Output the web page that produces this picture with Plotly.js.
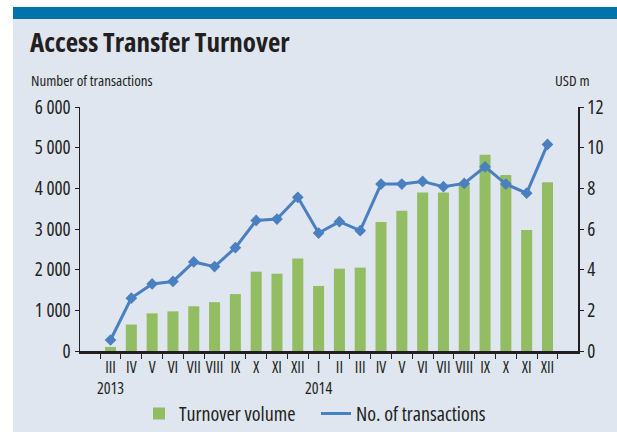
<!DOCTYPE html>
<html>
<head>
<meta charset="utf-8">
<script src="https://cdn.plot.ly/plotly-3.0.1.min.js"></script>
<style>
html,body{margin:0;padding:0;background:#fff;}
#chart{width:617px;height:432px;}
svg text{font-stretch:condensed;}
</style>
</head>
<body>
<div id="chart"></div>
<script>
var months = ["III 2013","IV 2013","V 2013","VI 2013","VII 2013","VIII 2013","IX 2013","X 2013","XI 2013","XII 2013",
              "I 2014","II 2014","III 2014","IV 2014","V 2014","VI 2014","VII 2014","VIII 2014","IX 2014","X 2014","XI 2014","XII 2014"];
var tickLabels = ["III<br>2013","IV","V","VI","VII","VIII","IX","X","XI","XII",
                  "I<br>2014","II","III","IV","V","VI","VII","VIII","IX","X","XI","XII"];
var turnoverUSDm = [0.2,1.3,1.85,1.95,2.2,2.4,2.8,3.9,3.8,4.55,
                    3.2,4.05,4.1,6.35,6.9,7.8,7.8,8.2,9.65,8.65,5.95,8.3];
var transactions = [270,1300,1650,1710,2190,2075,2540,3210,3245,3780,
                    2900,3180,2960,4105,4105,4170,4040,4120,4530,4105,3880,5080];

var FONT = '"Open Sans", "Roboto Condensed", sans-serif';
var DARK = '#231f20';
var PANEL = '#dfe6f0';

var traces = [
  {type:'bar', x:months, y:turnoverUSDm, name:'Turnover volume', yaxis:'y',
   marker:{color:'#93bd62'}},
  {type:'scatter', mode:'lines', x:months, y:transactions, name:'No. of transactions', yaxis:'y2',
   line:{color:'#4a7fc0', width:3}},
  {type:'scatter', mode:'markers', x:months, y:transactions, name:'No. of transactions', yaxis:'y2',
   showlegend:false, marker:{symbol:'diamond', size:9, color:'#4a7fc0'}}
];

var layout = {
  width:617, height:432,
  margin:{l:80, r:39, t:107, b:81},
  paper_bgcolor:'#ffffff', plot_bgcolor:'rgba(0,0,0,0)',
  font:{family:FONT, color:DARK, size:14},
  separators:'. ',
  bargap:0.47,
  showlegend:true,
  title:{text:'<b>Access Transfer Turnover</b>', x:30/617, xref:'container', xanchor:'left',
         y:1-42.5/432, yref:'container', yanchor:'middle',
         font:{family:FONT, size:27, color:DARK}},
  legend:{orientation:'h', x:(139-80)/498, xanchor:'left', xref:'paper',
          y:(432-413.5)/432, yref:'container', yanchor:'middle',
          entrywidth:132, entrywidthmode:'pixels',
          font:{family:FONT, size:20, color:DARK}, bgcolor:'rgba(0,0,0,0)', itemwidth:30},
  xaxis:{type:'category', tickmode:'array', tickvals:months, ticktext:tickLabels,
         tickson:'boundaries', ticks:'outside', ticklen:5, tickcolor:DARK, tickwidth:1,
         showline:true, linecolor:DARK, linewidth:3, showgrid:false, zeroline:false,
         tickfont:{family:FONT, size:16, color:DARK}, tickangle:0, automargin:false},
  yaxis:{side:'right', range:[0,12], tickvals:[0,2,4,6,8,10,12], ticks:'outside', ticklen:4,
         tickcolor:DARK, showline:true, linecolor:DARK, linewidth:1.5, showgrid:false, zeroline:false,
         tickfont:{family:FONT, size:19, color:DARK}, automargin:false},
  yaxis2:{overlaying:'y', side:'left', range:[0,6000], tickvals:[0,1000,2000,3000,4000,5000,6000],
          tickformat:',d', ticks:'outside', ticklen:4, tickcolor:DARK, showline:true, linecolor:DARK,
          linewidth:1.5, showgrid:false, zeroline:false, automargin:false,
          tickfont:{family:FONT, size:19, color:DARK}},
  shapes:[
    {type:'rect', xref:'paper', yref:'paper', x0:(13-80)/498, x1:(617-80)/498,
     y0:(351-432)/244, y1:(351-7)/244, fillcolor:PANEL, line:{width:0}, layer:'below'},
    {type:'rect', xref:'paper', yref:'paper', x0:(13-80)/498, x1:(617-80)/498,
     y0:(351-19)/244, y1:(351-7)/244, fillcolor:'#0073ae', line:{width:0}, layer:'below'}
  ],
  annotations:[
    {text:'Number of transactions', xref:'paper', yref:'paper', x:(29-80)/498, xanchor:'left',
     y:(351-80)/244, yanchor:'middle', showarrow:false, font:{family:FONT, size:15, color:DARK}},
    {text:'USD m', xref:'paper', yref:'paper', x:(592-80)/498, xanchor:'right',
     y:(351-80)/244, yanchor:'middle', showarrow:false, font:{family:FONT, size:15, color:DARK}}
  ]
};

Plotly.newPlot('chart', traces, layout, {displayModeBar:false, staticPlot:true});
</script>
</body>
</html>
